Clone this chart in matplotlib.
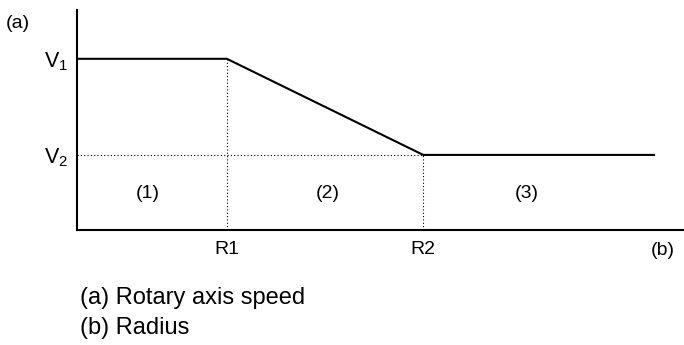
import matplotlib.pyplot as plt

# chart values (schematic units)
radius = [0.0, 1.0, 2.31, 3.85]
speed = [2.28, 2.28, 1.0, 1.0]
r_ticks = [1.0, 2.31]
r_labels = ["R1", "R2"]
v_ticks = [2.28, 1.0]
v_labels = [r"$\mathrm{V}_1$", r"$\mathrm{V}_2$"]
region_x = [0.47, 1.67, 3.0]
region_labels = ["(1)", "(2)", "(3)"]
captions = ["(a) Rotary axis speed", "(b) Radius"]

plt.rcParams["font.family"] = ["Liberation Sans", "DejaVu Sans"]
plt.rcParams["mathtext.fontset"] = "custom"
plt.rcParams["mathtext.rm"] = "Liberation Sans"
plt.rcParams["mathtext.it"] = "Liberation Sans"

fig = plt.figure(figsize=(6.84, 3.45), dpi=100)
ax = fig.add_axes([77 / 684, 115 / 345, 607 / 684, 220 / 345])
ax.set_xlim(0, 4.05)
ax.set_ylim(0, 2.93)

ax.plot(radius, speed, color="black", lw=1.5, solid_joinstyle="miter")

# dotted guide lines
dot = (0, (1, 2))
ax.plot([r_ticks[0], r_ticks[0]], [0, speed[0]], color="black", lw=0.8, linestyle=dot)
ax.plot([r_ticks[1], r_ticks[1]], [0, speed[2]], color="black", lw=0.8, linestyle=dot)
ax.plot([0, r_ticks[1]], [speed[2], speed[2]], color="black", lw=0.8, linestyle=dot)

for s in ["top", "right"]:
    ax.spines[s].set_visible(False)
for s in ["left", "bottom"]:
    ax.spines[s].set_linewidth(1.5)

ax.set_xticks(r_ticks)
ax.set_xticklabels(r_labels, fontsize=14)
ax.set_yticks(v_ticks)
ax.set_yticklabels(v_labels, fontsize=15.5)
ax.tick_params(axis="x", length=0, pad=8)
ax.tick_params(axis="y", length=0, pad=6)

for x, lab in zip(region_x, region_labels):
    ax.text(x, 0.49, lab, fontsize=14, ha="center", va="center")

ax.text(3.91, -0.27, "(b)", fontsize=14, ha="center", va="center")
fig.text(18 / 684, 1 - 23 / 345, "(a)", fontsize=14, ha="center", va="center")

fig.text(80 / 684, 1 - 298 / 345, captions[0], fontsize=17, ha="left", va="center")
fig.text(80 / 684, 1 - 328 / 345, captions[1], fontsize=17, ha="left", va="center")

fig.savefig("out.png", dpi=100)
